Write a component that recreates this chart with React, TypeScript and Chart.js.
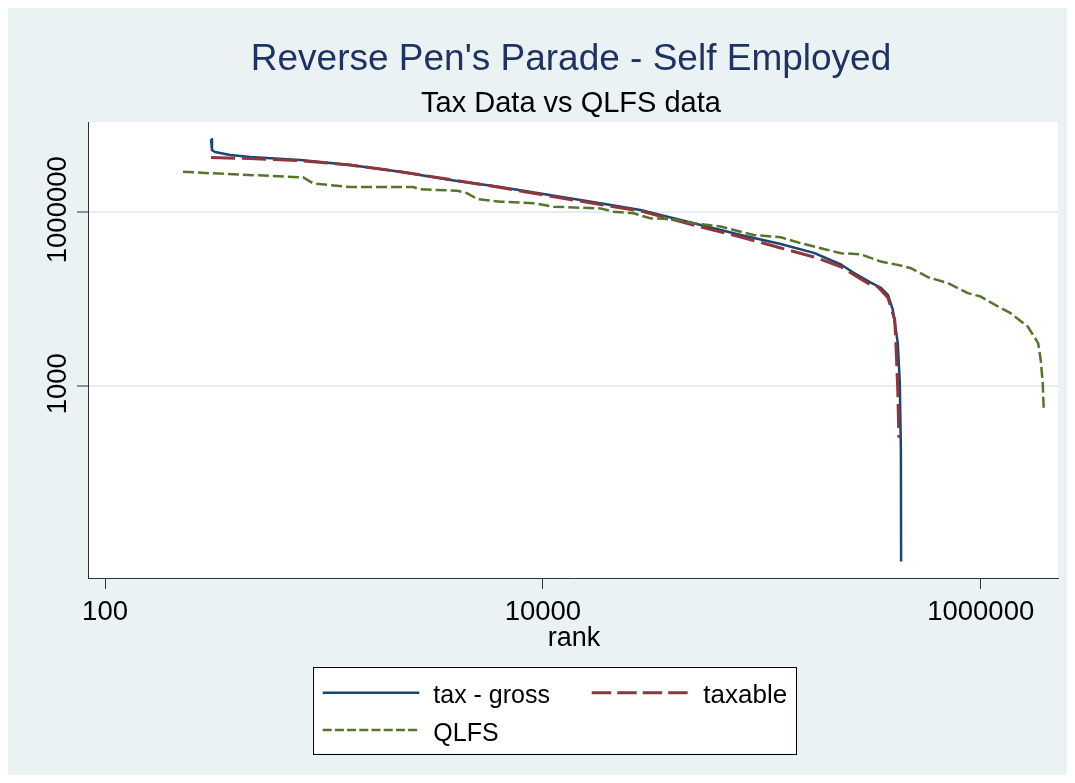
import React, { useEffect, useRef } from 'react';
import { Chart, registerables } from 'chart.js';

Chart.register(...registerables);

const W = 1059;
const H = 767;

const titleText = "Reverse Pen's Parade - Self Employed";
const subtitleText = 'Tax Data vs QLFS data';
const xAxisTitle = 'rank';

const xTickValues = [100, 10000, 1000000];
const yTickValues = [1000, 1000000];

const seriesNames = ['tax - gross', 'taxable', 'QLFS'];

const grossRank = [305, 308, 318, 373, 460, 779, 1319, 2232, 3780, 6400, 10060, 18300, 27900, 52600, 80100, 122000, 173000, 230000, 263000, 315000, 350000, 377000, 397000, 418000, 427000, 432000, 433000];
const grossValue = [1.78e7, 1.15e7, 1.07e7, 9.46e6, 8.74e6, 7.76e6, 6.37e6, 4.88e6, 3.51e6, 2.66e6, 2.02e6, 1.4e6, 1.07e6, 5.9e5, 3.97e5, 2.78e5, 1.95e5, 1.23e5, 8.81e4, 6.0e4, 4.86e4, 3.68e4, 2.03e4, 5.5e3, 1.13e3, 79, 0.93];

const taxableRank = [305, 460, 779, 1319, 2232, 3780, 6400, 10060, 18300, 27900, 52600, 80100, 122000, 173000, 230000, 283000, 315000, 339000, 377000, 405000, 411000, 418000, 423000];
const taxableValue = [8.6e6, 8.24e6, 7.61e6, 6.37e6, 4.9e6, 3.58e6, 2.61e6, 1.94e6, 1.33e6, 1.03e6, 5.45e5, 3.67e5, 2.37e5, 1.66e5, 1.12e5, 6.95e4, 5.47e4, 5.06e4, 3.27e4, 1.37e4, 4.17e3, 853, 127];

const qlfsRank = [227, 312, 804, 893, 1319, 2559, 2756, 4070, 4520, 5020, 6400, 9060, 11180, 18300, 21000, 25900, 31000, 39500, 48800, 64900, 74500, 91900, 122000, 151000, 192000, 230000, 283000, 350000, 418000, 480000, 574000, 708000, 874000, 1000000, 1200000, 1370000, 1640000, 1830000, 1880000, 1920000, 1940000];
const qlfsValue = [4.88e6, 4.58e6, 3.91e6, 3.08e6, 2.66e6, 2.66e6, 2.43e6, 2.3e6, 2.07e6, 1.65e6, 1.49e6, 1.4e6, 1.22e6, 1.14e6, 1.0e6, 9.39e5, 7.7e5, 7.4e5, 6.31e5, 5.56e5, 4.84e5, 3.97e5, 3.62e5, 2.86e5, 2.28e5, 1.92e5, 1.85e5, 1.38e5, 1.21e5, 1.06e5, 7.43e4, 5.86e4, 3.94e4, 3.44e4, 2.32e4, 1.78e4, 1.05e4, 5.43e3, 2.8e3, 1.13e3, 397];

const BG = '#eaf2f3';
const BLUE = '#1a476f';
const RED = '#90353b';
const GREEN = '#55752f';
const FONT = '"Liberation Sans", Arial, sans-serif';

const DASH_RED = [24, 7];
const DASH_GREEN = [11, 4];
const LEGEND_DASH_RED = [19.5, 6];
const LEGEND_DASH_GREEN = [9, 3.2];

const toPoints = (xs: number[], ys: number[]) => xs.map((x, i) => ({ x, y: ys[i] }));

const bgPlugin = {
  id: 'stataBg',
  beforeDraw(chart: any) {
    const { ctx, chartArea: a } = chart;
    ctx.save();
    ctx.fillStyle = BG;
    ctx.fillRect(0, 0, chart.width, chart.height);
    ctx.fillStyle = '#ffffff';
    ctx.fillRect(a.left, a.top, a.right - a.left, a.bottom - a.top);
    ctx.restore();
  },
};

const textPlugin = {
  id: 'stataText',
  afterDraw(chart: any) {
    const { ctx, chartArea: a } = chart;
    const xs = chart.scales.x;
    const ys = chart.scales.y;
    const cx = (a.left + a.right) / 2 - 2;
    ctx.save();
    // titles
    ctx.textAlign = 'center';
    ctx.textBaseline = 'alphabetic';
    ctx.fillStyle = '#1e3363';
    ctx.font = `37px ${FONT}`;
    ctx.fillText(titleText, cx, 62);
    ctx.fillStyle = '#000000';
    ctx.font = `29px ${FONT}`;
    ctx.fillText(subtitleText, cx, 104);

    // x tick labels
    ctx.font = `27.5px ${FONT}`;
    xTickValues.forEach((v) => {
      ctx.fillText(String(v), xs.getPixelForValue(v), 612);
    });
    ctx.font = `27px ${FONT}`;
    ctx.fillText(xAxisTitle, cx + 3, 638);

    // y tick labels (rotated)
    ctx.font = `27.5px ${FONT}`;
    yTickValues.forEach((v) => {
      const py = ys.getPixelForValue(v);
      ctx.save();
      ctx.translate(58, py - 2);
      ctx.rotate(-Math.PI / 2);
      ctx.textAlign = 'center';
      ctx.textBaseline = 'alphabetic';
      ctx.fillText(String(v), 0, 0);
      ctx.restore();
    });

    // legend
    const bx = 304.7, by = 658.7, bw = 483, bh = 86.6;
    ctx.fillStyle = '#ffffff';
    ctx.fillRect(bx, by, bw, bh);
    ctx.strokeStyle = '#000000';
    ctx.lineWidth = 1;
    ctx.strokeRect(Math.round(bx) + 0.5, Math.round(by) + 0.5, Math.round(bw), Math.round(bh));

    const items = [
      { label: seriesNames[0], color: BLUE, dash: [] as number[], width: 2.5, x1: 314.7, x2: 411.3, ly: 684.7, tx: 425.3, ty: 695.3, size: 25 },
      { label: seriesNames[1], color: RED, dash: LEGEND_DASH_RED, width: 3, x1: 583.7, x2: 680.3, ly: 684.7, tx: 695.3, ty: 695.3, size: 26 },
      { label: seriesNames[2], color: GREEN, dash: LEGEND_DASH_GREEN, width: 2.5, x1: 314.7, x2: 411.3, ly: 722, tx: 425.3, ty: 732.5, size: 25 },
    ];
    items.forEach((it) => {
      ctx.save();
      ctx.strokeStyle = it.color;
      ctx.lineWidth = it.width;
      ctx.setLineDash(it.dash);
      ctx.beginPath();
      ctx.moveTo(it.x1, it.ly);
      ctx.lineTo(it.x2, it.ly);
      ctx.stroke();
      ctx.restore();
      ctx.fillStyle = '#000000';
      ctx.font = `${it.size}px ${FONT}`;
      ctx.textAlign = 'left';
      ctx.textBaseline = 'alphabetic';
      ctx.fillText(it.label, it.tx, it.ty);
    });
    ctx.restore();
  },
};

export default function App() {
  const ref = useRef<HTMLCanvasElement | null>(null);

  useEffect(() => {
    if (!ref.current) return;
    const chart = new Chart(ref.current, {
      type: 'line',
      data: {
        datasets: [
          {
            label: seriesNames[0],
            data: toPoints(grossRank, grossValue),
            borderColor: BLUE,
            borderWidth: 2.5,
            pointRadius: 0,
            tension: 0,
            fill: false,
            order: 3,
          },
          {
            label: seriesNames[1],
            data: toPoints(taxableRank, taxableValue),
            borderColor: RED,
            borderWidth: 3,
            borderDash: DASH_RED,
            pointRadius: 0,
            tension: 0,
            fill: false,
            order: 2,
          },
          {
            label: seriesNames[2],
            data: toPoints(qlfsRank, qlfsValue),
            borderColor: GREEN,
            borderWidth: 2.5,
            borderDash: DASH_GREEN,
            pointRadius: 0,
            tension: 0,
            fill: false,
            order: 1,
          },
        ],
      },
      options: {
        animation: false,
        responsive: false,
        devicePixelRatio: 1,
        events: [],
        layout: { padding: { top: 114, right: 9, left: 0, bottom: 0 } },
        plugins: {
          legend: { display: false },
          title: { display: false },
          tooltip: { enabled: false },
        },
        elements: { line: { borderJoinStyle: 'round' } },
        scales: {
          x: {
            type: 'logarithmic',
            min: 83.6,
            max: 2.255e6,
            afterBuildTicks: (s: any) => {
              s.ticks = xTickValues.map((v) => ({ value: v }));
            },
            afterFit: (s: any) => {
              s.height = 197;
            },
            ticks: { display: false },
            grid: { drawOnChartArea: false, drawTicks: true, tickLength: 11, tickColor: '#333333', tickWidth: 1 },
            border: { display: true, color: '#333333', width: 1 },
          },
          y: {
            type: 'logarithmic',
            min: 0.4835,
            max: 3.52e7,
            afterBuildTicks: (s: any) => {
              s.ticks = yTickValues.map((v) => ({ value: v }));
            },
            afterFit: (s: any) => {
              s.width = 80;
            },
            ticks: { display: false },
            grid: { color: '#e4edef', lineWidth: 2, drawTicks: true, tickLength: 11, tickColor: '#333333', tickWidth: 1 },
            border: { display: true, color: '#333333', width: 1 },
          },
        },
      },
      plugins: [bgPlugin, textPlugin],
    } as any);
    return () => chart.destroy();
  }, []);

  return (
    <div style={{ width: W, height: H }}>
      <canvas ref={ref} width={W} height={H} style={{ display: 'block', width: W, height: H }} />
    </div>
  );
}
